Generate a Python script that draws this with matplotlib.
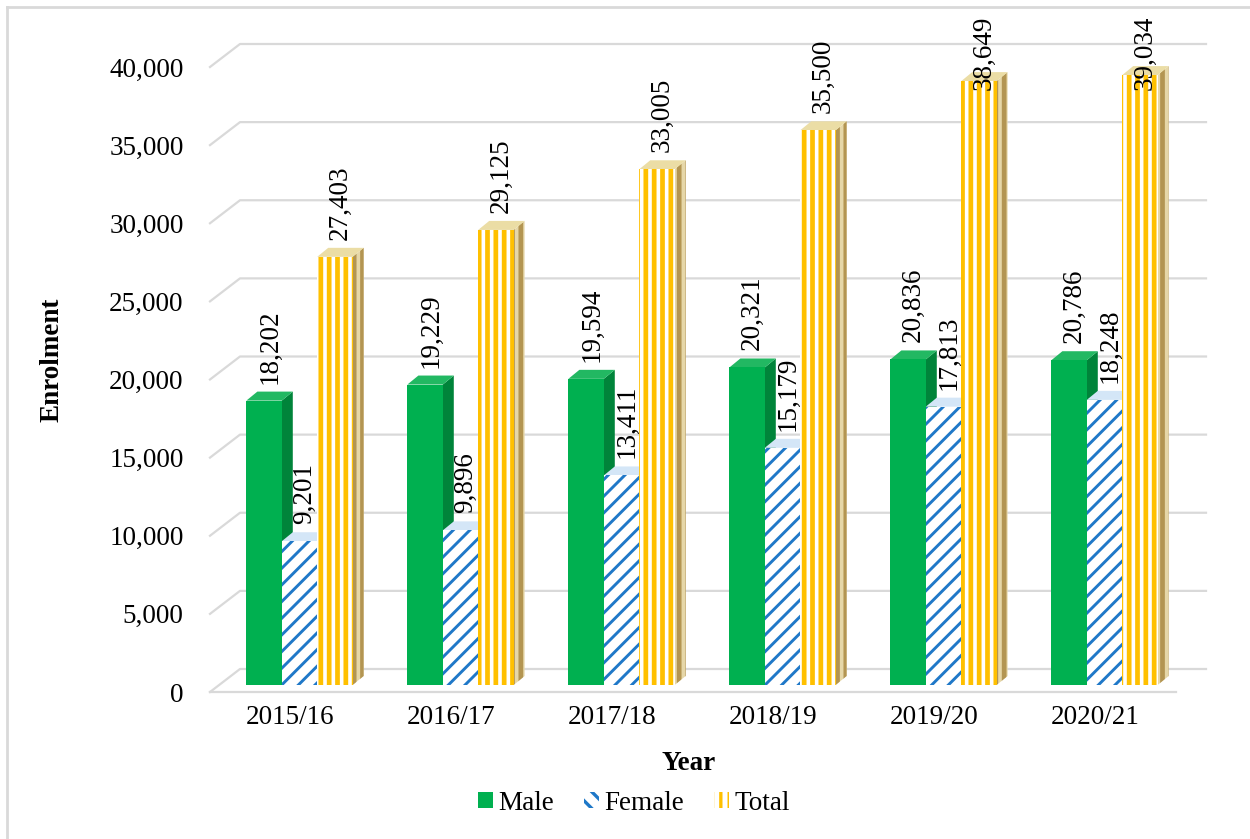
import numpy as np
import matplotlib.pyplot as plt
from matplotlib.patches import Polygon, Patch
from matplotlib.lines import Line2D

# ===================== data =====================
years = ['2015/16', '2016/17', '2017/18', '2018/19', '2019/20', '2020/21']
male = [18202, 19229, 19594, 20321, 20836, 20786]
female = [9201, 9896, 13411, 15179, 17813, 18248]
total = [27403, 29125, 33005, 35500, 38649, 39034]
yticks = np.arange(0, 40001, 5000)

plt.rcParams['font.family'] = ['Liberation Serif', 'DejaVu Serif']

W, H = 1250, 839
fig = plt.figure(figsize=(W / 100, H / 100), dpi=100)

# front plane of the fake 3-D box (pixels): x 210..1176, y 692 -> 0, 67 -> 40000
ax = fig.add_axes([210 / W, 1 - 692 / H, 966 / W, 625 / H])
ax.set_xlim(-0.5, 5.5)
ax.set_ylim(0, 40000)

ux = 966 / 6        # px per category
uy = 625 / 40000    # px per enrolment unit


def px(dx, dy):
    # pixel offsets -> data offsets
    return dx / ux, dy / uy


grid_color = '#d9d9d9'

# ===================== back wall + floor =====================
wx, wy = px(30, 23)
for v in yticks:
    ax.plot([-0.5, -0.5 + wx, 5.5 + wx], [v, v + wy, v + wy],
            color=grid_color, lw=1.6, clip_on=False, zorder=0)
ax.plot([-0.5, 5.5], [0, 0], color=grid_color, lw=1.6, clip_on=False, zorder=0)

# ===================== bars =====================
x = np.arange(len(years))
bw = 0.22
fx, fy = px(9, 7)     # bars stand slightly behind the front edge
dx, dy = px(11, 9)    # bar depth

styles = [
    # values, offset, face, hatch, hatch color, hatch lw, side face, side hatch color, top
    (male, -bw, '#00B050', None, '#00B050', 1.0, '#00843A', '#00843A', '#22B862'),
    (female, 0.0, 'white', '//', '#1F78C8', 2.1, '#eef3f9', '#5f9bd3', '#d4e6f7'),
    (total, bw, 'white', '||', '#FFC000', 3.4, '#E6D7A8', '#B39552', '#EBDDA5'),
]

z = 2
for vals, off, fc, hatch, hc, hlw, sc, shc, tc in styles:
    plt.rcParams['hatch.linewidth'] = hlw
    for xi, v in zip(x, vals):
        x0 = xi + off - bw / 2 + fx
        x1 = x0 + bw
        y0 = fy
        y1 = fy + v
        side = Polygon([(x1, y0), (x1, y1), (x1 + dx, y1 + dy), (x1 + dx, y0 + dy)],
                       closed=True, facecolor=sc, edgecolor=shc, lw=0, hatch=hatch,
                       clip_on=False, zorder=z)
        top = Polygon([(x0, y1), (x1, y1), (x1 + dx, y1 + dy), (x0 + dx, y1 + dy)],
                      closed=True, facecolor=tc, edgecolor=tc, lw=0, clip_on=False, zorder=z)
        ax.add_patch(side)
        ax.add_patch(top)
    ax.bar(x + off + fx, vals, bw, bottom=fy, color=fc, edgecolor=hc, linewidth=0,
           hatch=hatch, zorder=z + 1, clip_on=False)
    z += 2

# ===================== data labels =====================
label_top = 38500
for vals, off, *_ in styles:
    for xi, v in zip(x, vals):
        ly = min(fy + v + dy + 8 / uy, label_top)
        ax.text(xi + off + fx + dx / 2, ly, f'{v:,}', rotation=90, ha='center', va='bottom',
                fontsize=19.5, zorder=20, clip_on=False)

# ===================== axes =====================
for s in ax.spines.values():
    s.set_visible(False)
ax.set_facecolor('none')
ax.set_yticks(yticks)
ax.set_yticklabels([f'{v:,}' for v in yticks], fontsize=19.5)
ax.set_xticks(x)
ax.set_xticklabels(years, fontsize=19.5)
ax.tick_params(axis='y', length=0, pad=19)
ax.tick_params(axis='x', length=0, pad=9)

fig.text(52 / W, 1 - 360 / H, 'Enrolment', rotation=90, ha='center', va='center',
         fontsize=19.5, fontweight='bold')
fig.text(689 / W, 1 - 763 / H, 'Year', ha='center', va='center',
         fontsize=19.5, fontweight='bold')

plt.rcParams['hatch.linewidth'] = 2.4
handles = [
    Patch(facecolor='#00B050', edgecolor='#00B050', lw=0),
    Patch(facecolor='white', edgecolor='#1F78C8', hatch='\\\\', lw=0),
    Patch(facecolor='white', edgecolor='#FFC000', hatch='||', lw=0),
]
fig.legend(handles, ['Male', 'Female', 'Total'], loc='center', ncol=3,
           bbox_to_anchor=(634 / W, 1 - 803 / H), frameon=False, fontsize=19.5,
           handlelength=0.55, handleheight=0.55, handletextpad=0.2, columnspacing=1.1)

# chart border (top and left visible)
fig.add_artist(Line2D([7 / W, 7 / W], [0, 1 - 7 / H], color=grid_color, lw=2))
fig.add_artist(Line2D([7 / W, 1], [1 - 7 / H, 1 - 7 / H], color=grid_color, lw=2))

fig.savefig('out.png', dpi=100)
